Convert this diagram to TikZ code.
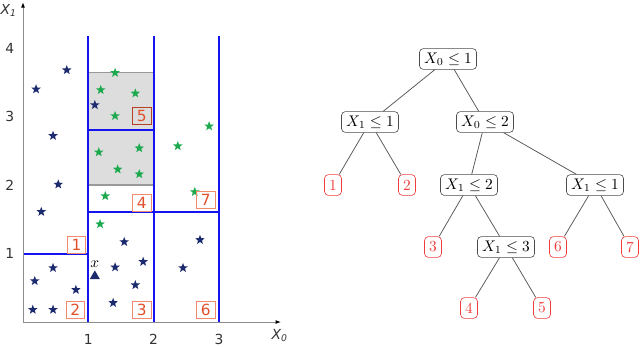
\documentclass[tikz,border=0pt]{standalone}
\usepackage{fontspec}
\newfontfamily\plotfont{DejaVu Sans}
\usetikzlibrary{shapes.geometric,arrows.meta,positioning}

\definecolor{starnavy}{HTML}{1C2A6E}
\definecolor{stargreen}{HTML}{1DAA4F}
\definecolor{splitblue}{HTML}{1414F0}
\definecolor{cellgrey}{HTML}{DDDDDD}
\definecolor{labelred}{HTML}{E2502A}
\definecolor{labelbox}{HTML}{F28A6E}
\definecolor{leafred}{HTML}{F03C3C}

\tikzset{
    plot axis/.style={
      draw=black!45,
      line width=0.6pt,
      -{Latex[length=3.5pt,width=2.6pt,color=black]}
    },
    plot split/.style={
      draw=splitblue,
      line width=1.3pt
    },
    plot cell/.style={
      fill=cellgrey,
      draw=black!40,
      line width=0.9pt
    },
    tick label/.style={
      font=\plotfont\small,
      text=black!80
    },
    region label/.style={
      draw=labelbox,
      text=labelred,
      font=\plotfont,
      line width=0.6pt,
      inner xsep=2.8pt,
      inner ysep=1.8pt
    },
    sample star/.style={
      star,
      star points=5,
      star point ratio=2.4,
      inner sep=0pt,
      minimum size=6.5pt
    },
    tree split/.style={
      draw=black!70,
      fill=white,
      rounded corners=2.5pt,
      inner xsep=3pt,
      inner ysep=2pt,
      minimum height=13.5pt
    },
    tree leaf/.style={
      draw=leafred,
      text=leafred,
      rounded corners=2.5pt,
      inner xsep=3pt,
      inner ysep=2pt,
      minimum height=13.5pt
    },
    tree edge/.style={
      draw=black!65,
      line width=0.5pt
    }
  }

\begin{document}
\begin{tikzpicture}[x=0.65pt,y=-0.65pt]
      \useasboundingbox (0,0) rectangle (640,346);

      % 分割された平面
      \begin{scope}[shift={(23,322)},x=42.45pt,y=44.5pt]
        % 灰色の領域
        \draw[plot cell] (1,2) rectangle (2,3.64);

        % 分割線
        \draw[plot split] (1,0) -- (1,4.18);
        \draw[plot split] (2,0) -- (2,4.18);
        \draw[plot split] (3,0) -- (3,4.18);
        \draw[plot split] (0,1) -- (1,1);
        \draw[plot split] (1,1.6) -- (3,1.6);
        \draw[plot split] (1,2.81) -- (2,2.81);

        % 軸
        \draw[plot axis] (0,0) -- (3.95,0);
        \draw[plot axis] (0,0) -- (0,4.67);
        \node[tick label] (xlab) at (3.93,-0.2) {\itshape X\textsubscript{0}};
        \node[tick label] (ylab) at (-0.22,4.55) {\itshape X\textsubscript{1}};
        \foreach \v in {1,2,3}
          \node[tick label, anchor=north] (xt\v) at (\v,-0.1) {\v};
        \foreach \v in {1,2,3,4}
          \node[tick label, anchor=east] (yt\v) at (-0.05,\v) {\v};

        % 点
        \foreach \px/\py [count=\i] in {0.67/3.68, 0.20/3.40, 0.46/2.72, 0.54/2.01,
            0.28/1.61, 0.46/0.79, 0.18/0.60, 0.81/0.47, 0.15/0.18, 0.46/0.18,
            1.10/3.17, 1.55/1.17, 1.84/0.88, 1.41/0.80, 1.72/0.54, 1.38/0.28,
            2.71/1.20, 2.45/0.79}
          \node[sample star, fill=starnavy] (n\i) at (\px,\py) {};
        \foreach \px/\py [count=\i] in {1.41/3.64, 1.19/3.39, 1.72/3.34, 1.41/3.01,
            1.16/2.48, 1.78/2.54, 1.45/2.23, 1.78/2.16, 1.26/1.84, 1.18/1.43,
            2.37/2.57, 2.85/2.86, 2.63/1.90}
          \node[sample star, fill=stargreen] (g\i) at (\px,\py) {};

        % 新しい点 x
        \node[regular polygon, regular polygon sides=3, fill=starnavy,
              inner sep=0pt, minimum size=7.5pt] (xpt) at (1.10,0.67) {};
        \node[above=0.5pt of xpt, inner sep=1pt] (xname) {$x$};

        % 葉の番号
        \node[region label] (r1) at (0.82,1.12) {1};
        \node[region label] (r2) at (0.80,0.18) {2};
        \node[region label] (r3) at (1.82,0.18) {3};
        \node[region label] (r4) at (1.82,1.74) {4};
        \node[region label, draw=labelred!80!black] (r5) at (1.82,3.01) {5};
        \node[region label] (r6) at (2.80,0.18) {6};
        \node[region label] (r7) at (2.80,1.78) {7};
      \end{scope}

      % 決定木
      \node[tree split] (root) at (448,59) {$X_0 \leq 1$};
      \node[tree split] (sa) at (370,122) {$X_1 \leq 1$};
      \node[tree split] (sb) at (485,122) {$X_0 \leq 2$};
      \node[tree split] (sc) at (469,185) {$X_1 \leq 2$};
      \node[tree split] (sd) at (595,185) {$X_1 \leq 1$};
      \node[tree split] (se) at (506,247) {$X_1 \leq 3$};
      \node[tree leaf] (l1) at (333,185) {1};
      \node[tree leaf] (l2) at (407,185) {2};
      \node[tree leaf] (l3) at (433,247) {3};
      \node[tree leaf] (l4) at (469,308) {4};
      \node[tree leaf] (l5) at (542,308) {5};
      \node[tree leaf] (l6) at (558,247) {6};
      \node[tree leaf] (l7) at (630,247) {7};

      % 枝
      \draw[tree edge] (root) -- (sa);
      \draw[tree edge] (root) -- (sb);
      \draw[tree edge] (sa) -- (l1);
      \draw[tree edge] (sa) -- (l2);
      \draw[tree edge] (sb) -- (sc);
      \draw[tree edge] (sb) -- (sd);
      \draw[tree edge] (sc) -- (l3);
      \draw[tree edge] (sc) -- (se);
      \draw[tree edge] (se) -- (l4);
      \draw[tree edge] (se) -- (l5);
      \draw[tree edge] (sd) -- (l6);
      \draw[tree edge] (sd) -- (l7);
    \end{tikzpicture}
\end{document}
